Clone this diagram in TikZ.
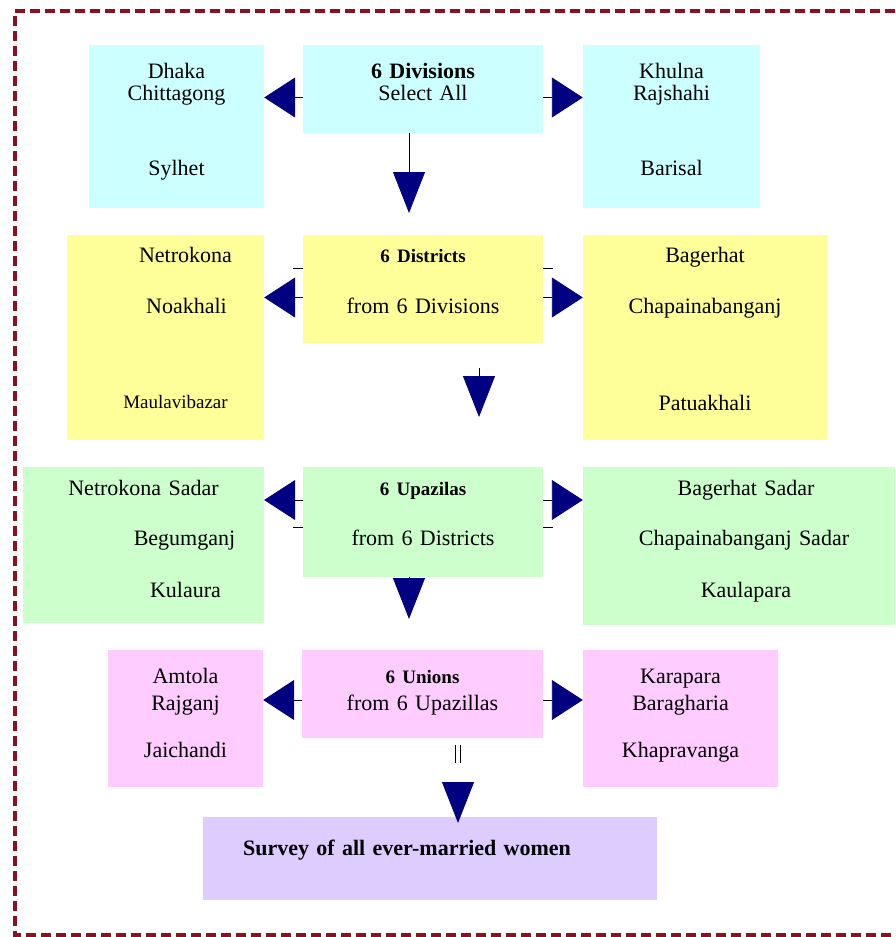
\documentclass[tikz,border=0pt]{standalone}
\usepackage{fontspec}
\setmainfont{Liberation Serif}
\usetikzlibrary{arrows.meta}
\definecolor{divcol}{HTML}{CCFFFF}
\definecolor{distcol}{HTML}{FFFF99}
\definecolor{upzcol}{HTML}{CCFFCC}
\definecolor{unicol}{HTML}{FFCCFF}
\definecolor{survcol}{HTML}{DDCCFF}
\definecolor{tipnavy}{HTML}{000080}
\definecolor{framered}{HTML}{8B1020}
\tikzstyle{divbox} = [rectangle, fill=divcol]
\tikzstyle{distbox} = [rectangle, fill=distcol]
\tikzstyle{upzbox} = [rectangle, fill=upzcol]
\tikzstyle{unibox} = [rectangle, fill=unicol]
\tikzstyle{survbox} = [rectangle, fill=survcol]
\tikzset{cell/.style n args={4}{minimum width=#1pt, text width=#1pt,
    minimum height=#2pt, text height=#3pt, text depth=#4pt, inner sep=0pt,
    align=center, font=\fontsize{22}{22}\selectfont}}
\newcommand{\headtxt}[1]{{\bfseries\fontsize{19}{22}\selectfont #1}}

\begin{document}
\begin{tikzpicture}[x=1pt,y=-1pt,
    hlink/.style={draw=black, line width=0.9pt,
      -{Triangle[length=31pt,width=40pt,color=tipnavy]}},
    vlink/.style={draw=black, line width=0.9pt,
      -{Triangle[length=41pt,width=32pt,color=tipnavy]}},
    tick/.style={draw=black, line width=0.9pt},
    twin/.style={draw=black, line width=1pt, double, double distance=4pt},
    frame/.style={draw=framered, line width=3.5pt, dash pattern=on 10pt off 5pt}]
  \useasboundingbox (0,0) rectangle (895,937);
  \draw[frame] (895,11) -- (15,11) -- (15,935) -- (895,935);

  % divisions
  \node[divbox, cell={175}{163}{33}{130}] (divL) at (176.5,126.5)
    {Dhaka\\Chittagong\\[53pt]Sylhet};
  \node[divbox, cell={240}{88}{33}{55}] (div) at (423,89)
    {\textbf{6 Divisions}\\Select All};
  \node[divbox, cell={177}{163}{33}{130}] (divR) at (671.5,126.5)
    {Khulna\\Rajshahi\\[53pt]Barisal};

  % districts
  \node[distbox, cell={197}{205}{27}{178}] (distL) at (165.5,337.5)
    {\hspace*{40pt}Netrokona\\[29pt]\hspace*{42pt}Noakhali\\[73pt]%
     \hspace*{20pt}{\fontsize{19}{22}\selectfont Maulavibazar}};
  \node[distbox, cell={240}{108}{27}{81}] (dist) at (423,289)
    {\headtxt{6 Districts}\\[29pt]from 6 Divisions};
  \node[distbox, cell={244}{205}{27}{178}] (distR) at (705,337.5)
    {Bagerhat\\[29pt]Chapainabanganj\\[75pt]Patuakhali};

  % upazilas
  \node[upzbox, cell={241}{156}{28}{128}] (upzL) at (143.5,545)
    {Netrokona Sadar\\[28pt]\hspace*{82pt}Begumganj\\[30pt]\hspace*{84pt}Kulaura};
  \node[upzbox, cell={240}{110}{28}{82}] (upz) at (423,522)
    {\headtxt{6 Upazilas}\\[28pt]from 6 Districts};
  \node[upzbox, cell={312}{158}{28}{130}] (upzR) at (739,546)
    {\hspace*{14pt}Bagerhat Sadar\\[28pt]\hspace*{10pt}Chapainabanganj Sadar\\[30pt]%
     \hspace*{14pt}Kaulapara};

  % unions
  \node[unibox, cell={155}{137}{33}{104}] (uniL) at (185.5,718.5)
    {Amtola\\[5pt]Rajganj\\[25pt]Jaichandi};
  \node[unibox, cell={241}{88}{33}{55}] (uni) at (422.5,694)
    {\headtxt{6 Unions}\\[5pt]from 6 Upazillas};
  \node[unibox, cell={195}{137}{33}{104}] (uniR) at (680.5,718.5)
    {Karapara\\[5pt]Baragharia\\[25pt]Khapravanga};

  \node[survbox, cell={454}{83}{38}{45}] (surv) at (430,858.5)
    {\hspace*{-46pt}\textbf{Survey of all ever-married women}};

  % arrow tips below the middle column
  \coordinate (t1) at (409,213);
  \coordinate (t2) at (479,417);
  \coordinate (t3) at (409,619);
  \coordinate (t4) at (458,823);

  \path ([yshift=-8.5pt]div.west) edge[hlink] ([yshift=-8.5pt]div.west -| divL.east)
        ([yshift=-8.5pt]div.east) edge[hlink] ([yshift=-8.5pt]div.east -| divR.west)
        ([yshift=-8.5pt]dist.west) edge[hlink] ([yshift=-8.5pt]dist.west -| distL.east)
        ([yshift=-8.5pt]dist.east) edge[hlink] ([yshift=-8.5pt]dist.east -| distR.west)
        ([yshift=22pt]upz.west) edge[hlink] ([yshift=22pt]upz.west -| upzL.east)
        ([yshift=22pt]upz.east) edge[hlink] ([yshift=22pt]upz.east -| upzR.west)
        ([yshift=-6pt]uni.west) edge[hlink] ([yshift=-6pt]uni.west -| uniL.east)
        ([yshift=-6pt]uni.east) edge[hlink] ([yshift=-6pt]uni.east -| uniR.west);

  \path (div.south -| t1) edge[vlink] (t1)
        (dist.south -| t2) edge[vlink, shorten <=25pt] (t2)
        (upz.south -| t3) edge[vlink] (t3)
        (uni.south -| t4) edge[vlink, shorten <=43.5pt] (t4);

  \draw[twin] ([yshift=-7pt]uni.south -| t4) -- ++(0,18);
  \draw[tick] ([yshift=21pt]dist.west) -- ++(-10,0);
  \draw[tick] ([yshift=21pt]dist.east) -- ++(10,0);
  \draw[tick] ([yshift=-5pt]upz.west) -- ++(-10,0);
  \draw[tick] ([yshift=-5pt]upz.east) -- ++(10,0);
\end{tikzpicture}
\end{document}
